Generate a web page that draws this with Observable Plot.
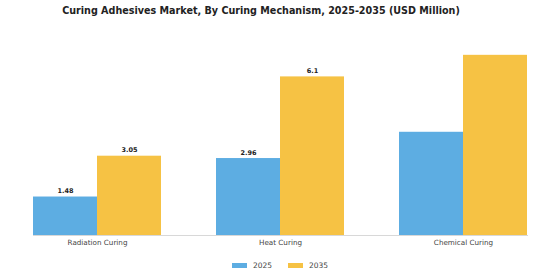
<!DOCTYPE html>
<html>
<head>
<meta charset="utf-8">
<script src="https://cdn.jsdelivr.net/npm/d3@7"></script>
<script src="https://cdn.jsdelivr.net/npm/@observablehq/plot@0.6"></script>
<style>
  body { margin: 0; background: #fff; font-family: "DejaVu Sans", sans-serif; }
  #wrap { width: 560px; height: 280px; position: relative; }
  #title { height: 22px; line-height: 22px; font-size: 9.6px; font-weight: bold; color: #222; text-align: center; padding-right: 38px; padding-top: 0px; }
  #legend { display: flex; justify-content: center; align-items: center; gap: 0; font-size: 7.5px; color: #444; margin-top: 11px; }
  .item { display: flex; align-items: center; margin: 0 8px; }
  .sw { width: 15px; height: 5px; margin-right: 6px; }
  svg { display: block; }
</style>
</head>
<body>
<div id="wrap">
  <div id="title">Curing Adhesives Market, By Curing Mechanism, 2025-2035 (USD Million)</div>
  <div id="chart"></div>
  <div id="legend"></div>
</div>
<script>
const categories = ["Radiation Curing", "Heat Curing", "Chemical Curing"];
const years = ["2025", "2035"];
const values2025 = [1.48, 2.96, 3.97];
const values2035 = [3.05, 6.1, 6.93];
const labels2025 = ["1.48", "2.96", null];
const labels2035 = ["3.05", "6.1", null];
const colors = ["#5dade2", "#f6c244"];

const data = [];
categories.forEach((c, i) => {
  data.push({category: c, year: years[0], value: values2025[i], label: labels2025[i]});
  data.push({category: c, year: years[1], value: values2035[i], label: labels2035[i]});
});

const chart = Plot.plot({
  width: 560,
  height: 228,
  marginLeft: 5,
  marginRight: 5,
  marginTop: 5,
  marginBottom: 15,
  style: {fontFamily: "DejaVu Sans, sans-serif", background: "#fff"},
  fx: {domain: categories, paddingInner: 0.3, paddingOuter: 0.15, axis: "bottom", tickSize: 0, tickPadding: 4, label: null},
  x: {domain: years, axis: null, padding: 0},
  y: {domain: [0, 8], range: [213, 5], axis: null},
  color: {domain: years, range: colors},
  marks: [
    Plot.barY(data, {fx: "category", x: "year", y: "value", fill: "year"}),
    Plot.frame({anchor: "bottom", stroke: "#d8d8d8", strokeWidth: 1, facet: "super"}),
    Plot.text(data.filter(d => d.label), {fx: "category", x: "year", y: "value", text: "label", dy: -6, fontWeight: "bold", fontSize: 6.5, fill: "#222"})
  ]
});
chart.querySelectorAll("g[aria-label='fx-axis tick label']").forEach(g => { g.setAttribute("font-size", "7.2"); g.setAttribute("fill", "#444"); });
document.getElementById("chart").appendChild(chart);

const legend = document.getElementById("legend");
years.forEach((y, i) => {
  const item = document.createElement("div");
  item.className = "item";
  const sw = document.createElement("div");
  sw.className = "sw";
  sw.style.background = colors[i];
  const t = document.createElement("span");
  t.textContent = y;
  item.appendChild(sw); item.appendChild(t);
  legend.appendChild(item);
});
</script>
</body>
</html>
